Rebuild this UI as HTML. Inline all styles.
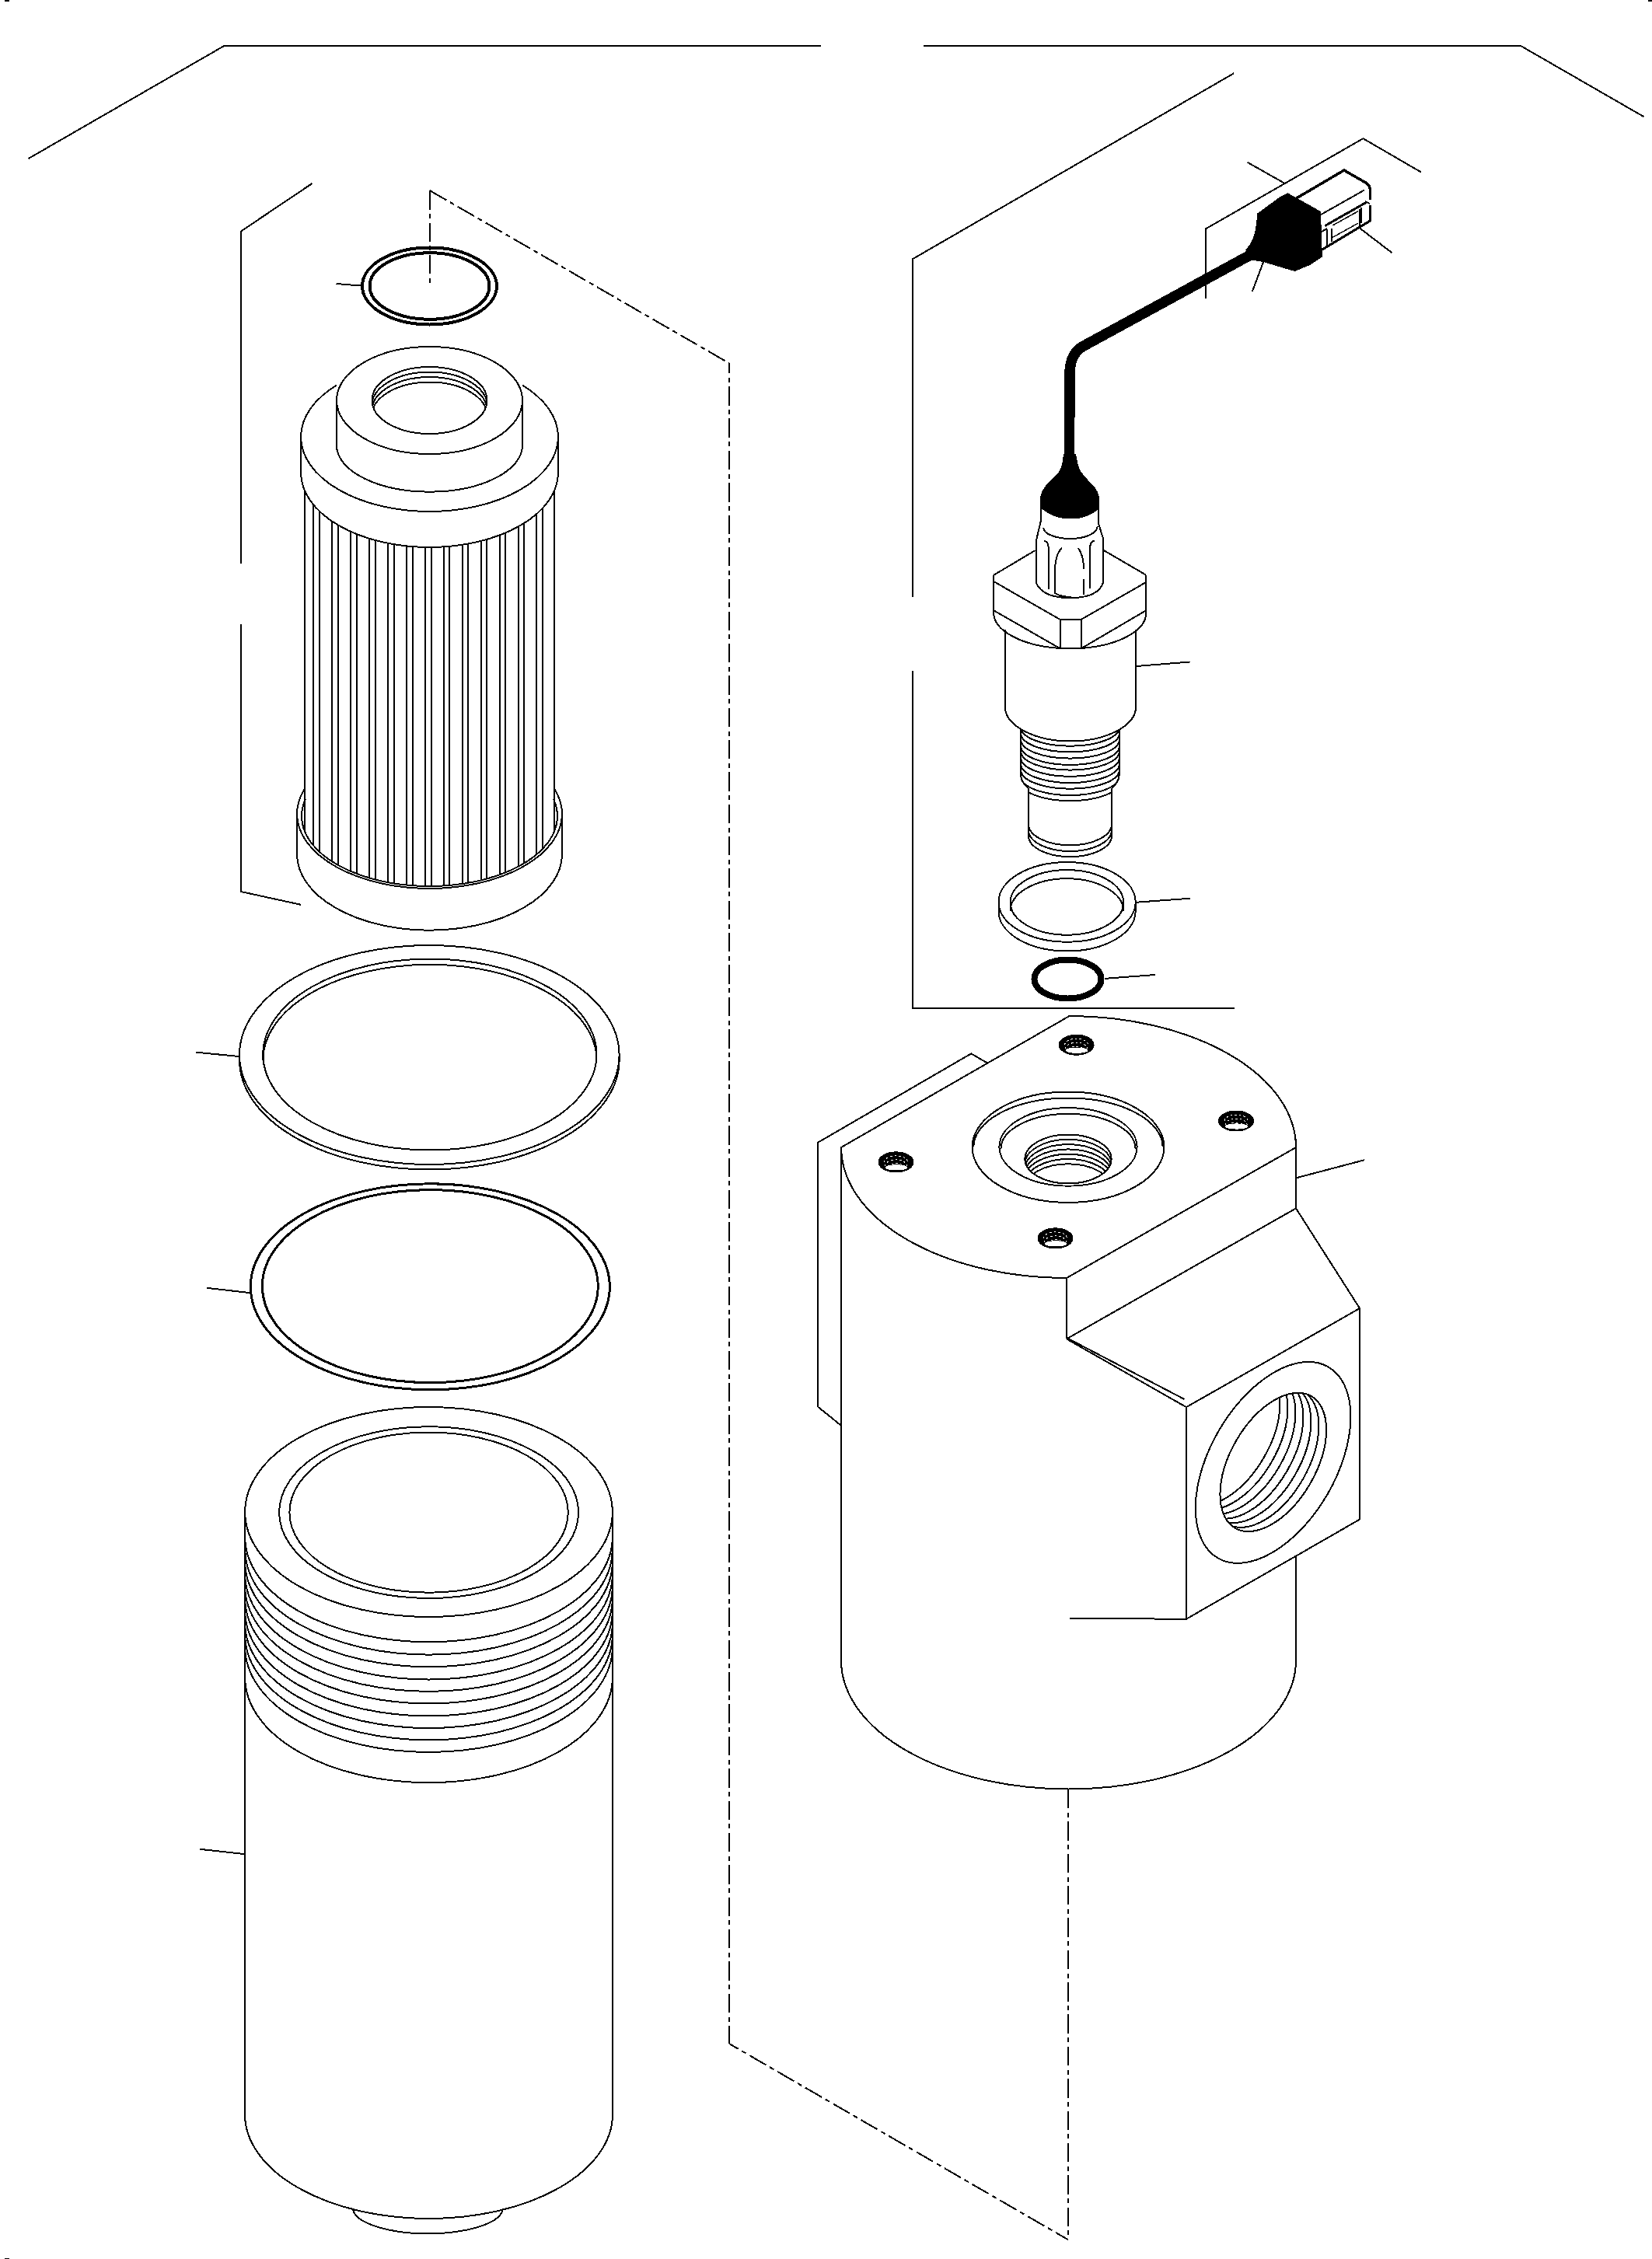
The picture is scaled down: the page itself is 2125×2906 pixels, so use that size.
<!DOCTYPE html><html><head><meta charset="utf-8"><title>Filter assembly</title><style>html,body{margin:0;padding:0;background:#fff;width:2125px;height:2906px;overflow:hidden;font-family:"Liberation Sans",sans-serif;}svg{display:block;}</style></head><body><svg width="2125" height="2906" viewBox="0 0 2125 2906"><defs><clipPath id="c_fh"><ellipse cx="552.5" cy="515" rx="74" ry="43"/></clipPath><clipPath id="c_st"><path d="M1312,938 L1441,938 L1441,998 L1430,1014 L1430,1040 L1323,1040 L1323,1014 L1312,998 Z"/></clipPath><clipPath id="c_sp"><rect x="1300" y="1060" width="160" height="60"/></clipPath><clipPath id="c_port"><ellipse cx="1638.1" cy="1881.3" rx="98" ry="55" transform="rotate(-60 1637.6 1881.4)"/></clipPath><clipPath id="c_bh"><ellipse cx="0" cy="2" rx="19" ry="10"/></clipPath><clipPath id="c_cp"><ellipse cx="1374" cy="1491" rx="55.6" ry="31.5"/></clipPath></defs><rect width="100%" height="100%" fill="#fff"/><g fill="none" stroke="#000" stroke-width="2" shape-rendering="crispEdges"><rect x="6" y="0" width="6" height="1.5" fill="#000" stroke="none"/>
<rect x="2120" y="0" width="5" height="1.5" fill="#000" stroke="none"/>
<rect x="6" y="2904.5" width="6" height="1.5" fill="#000" stroke="none"/>
<polyline points="36.6,204 288.3,59 1056,59"/>
<polyline points="1188,59 1956.2,59 2114.5,150.2"/>
<polyline points="401.5,236 310,297.5 310,725"/>
<polyline points="310,802.5 310,1147 386.9,1163.8"/>
<path d="M553,245.2 L553,368.7" stroke-dasharray="24.4 5.5 6 5.45"/>
<path d="M553,245.2 L938,467.3" stroke-dasharray="24.4 5.5 6 5.45"/>
<path d="M938,467.3 L938,2629" stroke-dasharray="24.4 5.5 6 5.45" stroke-dashoffset="11.55"/>
<path d="M1374,2881.2 L938,2629" stroke-dasharray="24.4 5.5 6 5.45" stroke-dashoffset="5.9"/>
<path d="M1374,2302 L1374,2881.2" stroke-dasharray="24.4 5.5 6 5.45"/>
<ellipse cx="552.5" cy="368" rx="86.5" ry="49.5" stroke-width="4"/>
<ellipse cx="552.5" cy="368" rx="77" ry="42.8" stroke-width="4"/>
<line x1="432.5" y1="365" x2="464" y2="367.5"/>
<path d="M387,562 A165.5,96 0 0 1 433,495.6 M672,495.6 A165.5,96 0 0 1 718,562 M387,562 A165.5,96 0 0 0 718,562"/>
<line x1="387" y1="562" x2="387" y2="608"/>
<line x1="718" y1="562" x2="718" y2="608"/>
<path d="M387,608 A165.5,96 0 0 0 718,608"/>
<ellipse cx="552.5" cy="515" rx="119.5" ry="69"/>
<line x1="433" y1="515" x2="433" y2="573"/>
<line x1="672" y1="515" x2="672" y2="573"/>
<path d="M433,573 A119.5,59.7 0 0 0 672,573"/>
<ellipse cx="552.5" cy="515" rx="74" ry="43"/>
<path d="M478.5,521.5 A74,43 0 0 1 626.5,521.5" clip-path="url(#c_fh)"/>
<path d="M478.5,528 A74,43 0 0 1 626.5,528" clip-path="url(#c_fh)"/>
<path d="M478.5,534.5 A74,43 0 0 1 626.5,534.5" clip-path="url(#c_fh)"/>
<line x1="392" y1="630.4" x2="392" y2="1069.2"/>
<line x1="713" y1="630.4" x2="713" y2="1070.2"/>
<line x1="403" y1="648.2" x2="403" y2="1087.3"/>
<line x1="411" y1="656.8" x2="411" y2="1095.7"/>
<line x1="427" y1="669.6" x2="427" y2="1108.1"/>
<line x1="435" y1="674.6" x2="435" y2="1112.9"/>
<line x1="451" y1="682.8" x2="451" y2="1120.7"/>
<line x1="459" y1="686.2" x2="459" y2="1124"/>
<line x1="475" y1="691.8" x2="475" y2="1129.3"/>
<line x1="483" y1="694.1" x2="483" y2="1131.5"/>
<line x1="499" y1="697.8" x2="499" y2="1135.1"/>
<line x1="507" y1="699.3" x2="507" y2="1136.5"/>
<line x1="523" y1="701.5" x2="523" y2="1138.5"/>
<line x1="531" y1="702.2" x2="531" y2="1139.2"/>
<line x1="547" y1="702.9" x2="547" y2="1139.9"/>
<line x1="555" y1="703" x2="555" y2="1140"/>
<line x1="571" y1="702.4" x2="571" y2="1139.4"/>
<line x1="578" y1="701.9" x2="578" y2="1138.9"/>
<line x1="595" y1="699.8" x2="595" y2="1137"/>
<line x1="602" y1="698.6" x2="602" y2="1135.9"/>
<line x1="619" y1="694.9" x2="619" y2="1132.4"/>
<line x1="626" y1="693" x2="626" y2="1130.6"/>
<line x1="643" y1="687.4" x2="643" y2="1125.2"/>
<line x1="650" y1="684.6" x2="650" y2="1122.6"/>
<line x1="667" y1="676.3" x2="667" y2="1114.7"/>
<line x1="674" y1="672.2" x2="674" y2="1110.8"/>
<line x1="690" y1="660.4" x2="690" y2="1099.6"/>
<line x1="698" y1="652.7" x2="698" y2="1092.2"/>
<line x1="382" y1="1045" x2="382" y2="1099"/>
<line x1="723" y1="1045" x2="723" y2="1099"/>
<path d="M382,1099 A170.5,97.7 0 0 0 723,1099"/>
<path d="M382,1047 A170.5,96 0 0 1 392,1014.6 M713,1014.6 A170.5,96 0 0 1 723,1047 M382,1047 A170.5,96 0 0 0 723,1047"/>
<path d="M388,1050 A164.5,90 0 0 1 393,1028 M712,1028 A164.5,90 0 0 1 717,1050 M388,1050 A164.5,90 0 0 0 717,1050"/>
<ellipse cx="552.3" cy="1357" rx="244.3" ry="141"/>
<path d="M308,1363.5 A244.3,141 0 0 0 796.6,1363.5"/>
<line x1="308" y1="1357" x2="308" y2="1363.5"/>
<line x1="796.6" y1="1357" x2="796.6" y2="1363.5"/>
<ellipse cx="552.9" cy="1356.5" rx="214.6" ry="123"/>
<path d="M338.3,1363.8 A214.6,123 0 0 1 767.5,1363.8"/>
<line x1="251.8" y1="1353.6" x2="308.1" y2="1359.1"/>
<ellipse cx="553.3" cy="1655.3" rx="231" ry="132.5" stroke-width="3"/>
<ellipse cx="553.3" cy="1654.6" rx="216" ry="124" stroke-width="3"/>
<line x1="266.3" y1="1656.9" x2="320.8" y2="1663"/>
<ellipse cx="551.5" cy="1945" rx="236.3" ry="135"/>
<ellipse cx="551.6" cy="1945.6" rx="192.5" ry="110.4"/>
<ellipse cx="551.6" cy="1945.6" rx="179.2" ry="103.1"/>
<path d="M315.2,1977.3 A236.3,135 0 0 0 787.8,1977.3"/>
<path d="M315.2,1993.7 A236.3,135 0 0 0 787.8,1993.7"/>
<path d="M315.2,2009.3 A236.3,135 0 0 0 787.8,2009.3"/>
<path d="M315.2,2025.6 A236.3,135 0 0 0 787.8,2025.6"/>
<path d="M315.2,2040.9 A236.3,135 0 0 0 787.8,2040.9"/>
<path d="M315.2,2056.5 A236.3,135 0 0 0 787.8,2056.5"/>
<path d="M315.2,2072.5 A236.3,135 0 0 0 787.8,2072.5"/>
<path d="M315.2,2088.1 A236.3,135 0 0 0 787.8,2088.1"/>
<path d="M315.2,2103.4 A236.3,135 0 0 0 787.8,2103.4"/>
<path d="M315.2,2119 A236.3,135 0 0 0 787.8,2119"/>
<path d="M315.2,2158.2 A236.3,135 0 0 0 787.8,2158.2"/>
<line x1="315" y1="1945" x2="315" y2="2720"/>
<line x1="788" y1="1945" x2="788" y2="2722"/>
<path d="M315,2720 A236.5,134 0 0 0 788,2720"/>
<path d="M454.3,2843 A96.5,33 0 0 0 646.4,2844"/>
<line x1="257.1" y1="2378.8" x2="315.1" y2="2385.2"/>
<polyline points="1587.1,94.3 1174,333.2 1174,768"/>
<polyline points="1174,863 1174,1297 1587.5,1297"/>
<polyline points="1550.9,384.3 1550.9,294.4 1753.4,178.2 1827.8,221.4"/>
<line x1="1604.5" y1="208.7" x2="1651.7" y2="235.4"/>
<line x1="1747.9" y1="292.6" x2="1790.6" y2="325.3"/>
<line x1="1625.4" y1="336.1" x2="1610.8" y2="375.2"/>
<path d="M1612,326 L1393,445.5 Q1377,455 1376,478 L1375.5,606" stroke-width="13.5" stroke-linejoin="round"/>
<path d="M1603.6,321.6 C1612,312 1616,300 1617.2,287.1 L1618.1,275.3 L1645.3,255.3 L1656.2,249.3 L1698,272.6 L1699.8,329.8 L1685.3,339.8 L1665.3,348 L1625.4,336.1 L1609.9,333.4 Z" fill="#000"/>
<path d="M1667.1,255.3 L1728.9,219 L1757.5,235.5 Q1762.5,239 1762.5,245 L1762.5,256.5" stroke-width="3.5"/>
<line x1="1698.9" y1="276.2" x2="1755.2" y2="244.4"/>
<path d="M1699.8,321.6 L1762.5,284 L1762.5,263.5" stroke-width="3"/>
<path d="M1704.3,290.5 L1759,259.5" stroke-width="3"/>
<path d="M1714.3,290 L1747,271.7 M1714.3,305.3 L1747,287.1 M1756,259 L1762,262" stroke-width="1.5"/>
<path d="M1707,295.3 L1707,318 M1712.5,293.5 L1712.5,310.7 M1748.8,269 L1748.8,290.7 M1751,267 L1751,287" stroke-width="2"/>
<path d="M1700,298 L1707,294" stroke-width="2"/>
<path d="M1369,585 L1368,592 C1367,600 1365,606 1361,610 C1355,616 1348,622 1344,628 C1340,634 1338.5,640 1338.5,646 L1338.5,652 C1350,662 1362,666.5 1377,666.5 C1392,666.5 1404,662 1413,653.5 L1413,640 C1412,634 1408,628 1405,625 C1399,618 1392,612 1389,606 C1386,601 1385,596 1384.5,592 L1383,585 Z" fill="#000"/>
<path d="M1338.5,650 L1338.5,671.6 L1332.6,696.8 L1332.6,749"/>
<path d="M1412.5,650 L1412.5,671.6 L1419.2,693.4 L1419.2,749"/>
<path d="M1342.3,679.2 A35,14 0 0 0 1377,693 A35,16 0 0 0 1411.7,676.6"/>
<path d="M1332.6,749 Q1340,769.1 1377.2,769.1 Q1413,769.1 1419.2,749"/>
<path d="M1342.7,696.5 Q1349,694 1349,710 L1349,758"/>
<path d="M1366,704.5 Q1357,714 1357,735 L1357,763 Q1365,768 1378,768"/>
<path d="M1387,705 Q1394,715 1394,732 M1394,745 L1394,765"/>
<path d="M1408,696 Q1401.5,695 1401.5,712 L1401.5,757"/>
<polyline points="1278.2,739.8 1331.7,708"/>
<polyline points="1419.8,708 1474.3,739.8"/>
<polyline points="1278.2,748 1363.5,796.9 1390.8,796.9 1474.3,748.9"/>
<line x1="1278.2" y1="739.8" x2="1278.2" y2="788"/>
<line x1="1474.3" y1="739.8" x2="1474.3" y2="788"/>
<line x1="1363.5" y1="796.9" x2="1363.5" y2="834.2"/>
<line x1="1390.8" y1="796.9" x2="1390.8" y2="834.2"/>
<polyline points="1278.2,785.2 1363.5,834.2 1390.8,834.2 1474.3,785.2"/>
<path d="M1278.2,788 A99,46 0 0 0 1363.5,834 M1390.8,834 A99,46 0 0 0 1474.3,788"/>
<line x1="1292.7" y1="809.7" x2="1292.7" y2="909"/>
<line x1="1461.2" y1="809.7" x2="1461.2" y2="909"/>
<path d="M1292.8,909 A84.2,44.5 0 0 0 1461.2,909"/>
<line x1="1313" y1="938" x2="1313" y2="998"/>
<line x1="1439.5" y1="938" x2="1439.5" y2="998"/>
<path d="M1313.2,935.7 A63.3,24 0 0 0 1439.8,935.7" clip-path="url(#c_st)"/>
<path d="M1313.2,943.4 A63.3,24 0 0 0 1439.8,943.4" clip-path="url(#c_st)"/>
<path d="M1313.2,951.6 A63.3,24 0 0 0 1439.8,951.6" clip-path="url(#c_st)"/>
<path d="M1313.2,959.9 A63.3,24 0 0 0 1439.8,959.9" clip-path="url(#c_st)"/>
<path d="M1313.2,966.6 A63.3,24 0 0 0 1439.8,966.6" clip-path="url(#c_st)"/>
<path d="M1313.2,974.8 A63.3,24 0 0 0 1439.8,974.8" clip-path="url(#c_st)"/>
<path d="M1313.2,983 A63.3,24 0 0 0 1439.8,983" clip-path="url(#c_st)"/>
<path d="M1313.2,990.7 A63.3,24 0 0 0 1439.8,990.7" clip-path="url(#c_st)"/>
<path d="M1313.2,999 A63.3,24 0 0 0 1439.8,999" clip-path="url(#c_st)"/>
<path d="M1313.2,1006.2 A63.3,24 0 0 0 1439.8,1006.2" clip-path="url(#c_st)"/>
<path d="M1313,998 Q1314,1007 1323,1014 M1439.5,998 Q1438.5,1007 1430,1014"/>
<line x1="1323" y1="1014" x2="1323" y2="1075"/>
<line x1="1430" y1="1014" x2="1430" y2="1075"/>
<path d="M1323,1060.3 A53.5,27 0 0 0 1430,1060.3" clip-path="url(#c_sp)"/>
<path d="M1323,1068 A53.5,27 0 0 0 1430,1068" clip-path="url(#c_sp)"/>
<path d="M1323,1075.2 A53.5,27 0 0 0 1430,1075.2" clip-path="url(#c_sp)"/>
<line x1="1461.6" y1="857" x2="1530.6" y2="851.5"/>
<ellipse cx="1372.6" cy="1160.4" rx="88.1" ry="51.3"/>
<path d="M1284.5,1172.2 A88.1,51.3 0 0 0 1460.7,1172.2"/>
<line x1="1284.5" y1="1160.4" x2="1284.5" y2="1172.2"/>
<line x1="1460.7" y1="1160.4" x2="1460.7" y2="1172.2"/>
<ellipse cx="1372.4" cy="1160.9" rx="72.8" ry="41.8"/>
<path d="M1299.6,1172 A72.8,41.8 0 0 1 1445.2,1172"/>
<line x1="1460.7" y1="1160.8" x2="1530.6" y2="1155.7"/>
<ellipse cx="1373.5" cy="1259.5" rx="43" ry="25" stroke-width="8"/>
<line x1="1420.7" y1="1258.9" x2="1485.7" y2="1254"/>
<path d="M1375.6,1307 A292,169 0 0 1 1667,1476 L1372,1644 A290,168 0 0 1 1082,1476 Z"/>
<polyline points="1269.9,1367.4 1249.2,1355.4 1052,1469.8 1052,1809.6 1081.5,1833.5"/>
<line x1="1082" y1="1476" x2="1082" y2="2136"/>
<line x1="1667" y1="1465" x2="1667" y2="1554.4"/>
<line x1="1372" y1="1644" x2="1372" y2="1722.4"/>
<polyline points="1372,1722.4 1667,1554.4 1749,1683 1526,1810.2 1372,1722.4"/>
<line x1="1374" y1="1722" x2="1523.5" y2="1800"/>
<line x1="1526" y1="1810.2" x2="1526" y2="2082.7"/>
<polyline points="1526,2082.7 1749,1954.6 1749,1683"/>
<line x1="1667" y1="2001.7" x2="1667" y2="2136"/>
<path d="M1082,2136 A292.5,165.5 0 0 0 1667,2136"/>
<line x1="1376" y1="2082" x2="1526" y2="2082.7"/>
<line x1="1667" y1="1515.4" x2="1754.8" y2="1492.3"/>
<ellipse cx="1637.6" cy="1881.4" rx="142" ry="81" transform="rotate(-60 1637.6 1881.4)"/>
<ellipse cx="1638.1" cy="1881.3" rx="98" ry="55" transform="rotate(-60 1637.6 1881.4)"/>
<g clip-path="url(#c_port)"><ellipse cx="1628.1" cy="1875.7" rx="98" ry="55" transform="rotate(-60 1628.1 1875.7)"/></g>
<g clip-path="url(#c_port)"><ellipse cx="1618.1" cy="1870" rx="98" ry="55" transform="rotate(-60 1618.1 1870)"/></g>
<g clip-path="url(#c_port)"><ellipse cx="1608.1" cy="1864.4" rx="98" ry="55" transform="rotate(-60 1608.1 1864.4)"/></g>
<g clip-path="url(#c_port)"><ellipse cx="1598.1" cy="1858.8" rx="98" ry="55" transform="rotate(-60 1598.1 1858.8)"/></g>
<g clip-path="url(#c_port)"><ellipse cx="1588.1" cy="1853.1" rx="98" ry="55" transform="rotate(-60 1588.1 1853.1)"/></g>
<g clip-path="url(#c_port)"><ellipse cx="1578.1" cy="1847.5" rx="98" ry="55" transform="rotate(-60 1578.1 1847.5)"/></g>
<ellipse cx="1374" cy="1475.7" rx="123.4" ry="71.2"/>
<path d="M1252.3,1475.5 A121.7,63 0 0 1 1495.7,1475.5"/>
<ellipse cx="1374" cy="1475.4" rx="88.6" ry="50.3"/>
<path d="M1287.4,1478 A86.6,45.2 0 0 1 1460.6,1478"/>
<ellipse cx="1374" cy="1491" rx="55.6" ry="31.5"/>
<path d="M1318.4,1497.3 A55.6,31.5 0 0 1 1429.6,1497.3" clip-path="url(#c_cp)"/>
<path d="M1318.4,1503.6 A55.6,31.5 0 0 1 1429.6,1503.6" clip-path="url(#c_cp)"/>
<path d="M1318.4,1509.9 A55.6,31.5 0 0 1 1429.6,1509.9" clip-path="url(#c_cp)"/>
<path d="M1318.4,1516.2 A55.6,31.5 0 0 1 1429.6,1516.2" clip-path="url(#c_cp)"/>
<path d="M1318.4,1522.5 A55.6,31.5 0 0 1 1429.6,1522.5" clip-path="url(#c_cp)"/>
<path d="M1318.4,1528.8 A55.6,31.5 0 0 1 1429.6,1528.8" clip-path="url(#c_cp)"/>
<ellipse cx="1384.6" cy="1344.2" rx="22" ry="12.5" fill="#000"/>
<ellipse cx="1385.1" cy="1351.2" rx="14.5" ry="3.6" fill="#fff" stroke="none"/>
<path d="M-15,2 A15,8 0 0 1 15,2" stroke="#fff" stroke-width="1" stroke-dasharray="2.5 3" clip-path="url(#c_bh)" transform="translate(1384.6 1342.2)"/>
<path d="M-14,7 A14,8 0 0 1 14,7" stroke="#fff" stroke-width="1" stroke-dasharray="2.5 3" clip-path="url(#c_bh)" transform="translate(1384.6 1342.2)"/>
<path d="M-13,12 A13,8 0 0 1 13,12" stroke="#fff" stroke-width="1" stroke-dasharray="2.5 3" clip-path="url(#c_bh)" transform="translate(1384.6 1342.2)"/>
<ellipse cx="1590.1" cy="1442" rx="22" ry="12.5" fill="#000"/>
<ellipse cx="1590.6" cy="1449" rx="14.5" ry="3.6" fill="#fff" stroke="none"/>
<path d="M-15,2 A15,8 0 0 1 15,2" stroke="#fff" stroke-width="1" stroke-dasharray="2.5 3" clip-path="url(#c_bh)" transform="translate(1590.1 1440)"/>
<path d="M-14,7 A14,8 0 0 1 14,7" stroke="#fff" stroke-width="1" stroke-dasharray="2.5 3" clip-path="url(#c_bh)" transform="translate(1590.1 1440)"/>
<path d="M-13,12 A13,8 0 0 1 13,12" stroke="#fff" stroke-width="1" stroke-dasharray="2.5 3" clip-path="url(#c_bh)" transform="translate(1590.1 1440)"/>
<ellipse cx="1152.5" cy="1494.9" rx="22" ry="12.5" fill="#000"/>
<ellipse cx="1153" cy="1501.9" rx="14.5" ry="3.6" fill="#fff" stroke="none"/>
<path d="M-15,2 A15,8 0 0 1 15,2" stroke="#fff" stroke-width="1" stroke-dasharray="2.5 3" clip-path="url(#c_bh)" transform="translate(1152.5 1492.9)"/>
<path d="M-14,7 A14,8 0 0 1 14,7" stroke="#fff" stroke-width="1" stroke-dasharray="2.5 3" clip-path="url(#c_bh)" transform="translate(1152.5 1492.9)"/>
<path d="M-13,12 A13,8 0 0 1 13,12" stroke="#fff" stroke-width="1" stroke-dasharray="2.5 3" clip-path="url(#c_bh)" transform="translate(1152.5 1492.9)"/>
<ellipse cx="1357.5" cy="1592.9" rx="22" ry="12.5" fill="#000"/>
<ellipse cx="1358" cy="1599.9" rx="14.5" ry="3.6" fill="#fff" stroke="none"/>
<path d="M-15,2 A15,8 0 0 1 15,2" stroke="#fff" stroke-width="1" stroke-dasharray="2.5 3" clip-path="url(#c_bh)" transform="translate(1357.5 1590.9)"/>
<path d="M-14,7 A14,8 0 0 1 14,7" stroke="#fff" stroke-width="1" stroke-dasharray="2.5 3" clip-path="url(#c_bh)" transform="translate(1357.5 1590.9)"/>
<path d="M-13,12 A13,8 0 0 1 13,12" stroke="#fff" stroke-width="1" stroke-dasharray="2.5 3" clip-path="url(#c_bh)" transform="translate(1357.5 1590.9)"/></g></svg></body></html>
